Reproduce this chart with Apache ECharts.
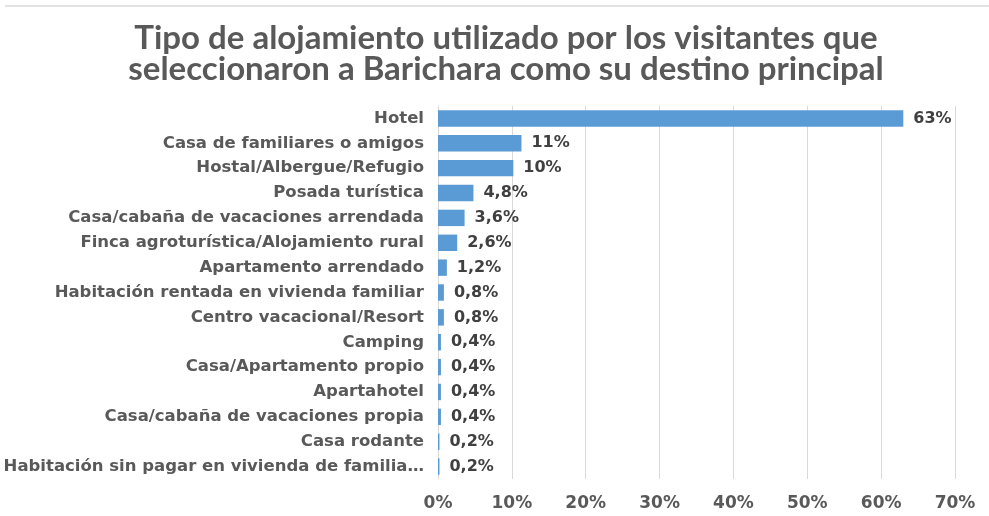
<!DOCTYPE html>
<html><head><meta charset="utf-8">
<script src="https://cdn.jsdelivr.net/npm/echarts@6/dist/echarts.min.js"></script>
<style>html,body{margin:0;padding:0;background:#fff}#c{width:989px;height:516px}</style>
</head><body><div id="c"></div>
<script>
const categories = ["Hotel","Casa de familiares o amigos","Hostal/Albergue/Refugio","Posada turística","Casa/cabaña de vacaciones arrendada","Finca agroturística/Alojamiento rural","Apartamento arrendado","Habitación rentada en vivienda familiar","Centro vacacional/Resort","Camping","Casa/Apartamento propio","Apartahotel","Casa/cabaña de vacaciones propia","Casa rodante","Habitación sin pagar en vivienda de familia…"];
const values = [63.0, 11.3, 10.2, 4.8, 3.6, 2.6, 1.2, 0.8, 0.8, 0.4, 0.4, 0.4, 0.4, 0.2, 0.2];
const valueLabels = ["63%","11%","10%","4,8%","3,6%","2,6%","1,2%","0,8%","0,8%","0,4%","0,4%","0,4%","0,4%","0,2%","0,2%"];
const xTicks = ["0%","10%","20%","30%","40%","50%","60%","70%"];

const chart = echarts.init(document.getElementById('c'));
chart.setOption({
  animation: false,
  title: {
    text: "Tipo de alojamiento utilizado por los visitantes que\nseleccionaron a Barichara como su destino principal",
    left: 501, top: 18, textAlign: 'center',
    textStyle: {fontFamily: 'Lato', fontWeight: 'bold', fontSize: 33, lineHeight: 31, color: '#595959'}
  },
  graphic: [{type:'line', shape:{x1:5,y1:6,x2:989,y2:6}, style:{stroke:'#d9d9d9', lineWidth:1.5}}],
  grid: {left: 438, right: 34, top: 106, bottom: 37},
  xAxis: {
    type: 'value', min: 0, max: 70, interval: 10,
    axisLine: {show: false}, axisTick: {show: false},
    splitLine: {lineStyle: {color: '#d9d9d9', width: 1}},
    axisLabel: {formatter: v => xTicks[Math.round(v/10)], color: '#595959', fontFamily: 'DejaVu Sans', fontWeight: 'bold', fontSize: 17, margin: 16}
  },
  yAxis: {
    type: 'category', data: categories, inverse: true,
    axisLine: {show: true, lineStyle: {color: '#d9d9d9'}}, axisTick: {show: false},
    axisLabel: {color: '#595959', fontFamily: 'DejaVu Sans', fontWeight: 'bold', fontSize: 16.5, margin: 14}
  },
  series: [{
    type: 'bar', data: values, barWidth: '66%',
    itemStyle: {color: '#5b9bd5'},
    label: {show: true, position: 'right', distance: 10, formatter: p => valueLabels[p.dataIndex],
      color: '#404040', fontFamily: 'DejaVu Sans', fontWeight: 'bold', fontSize: 16}
  }]
});
</script></body></html>
